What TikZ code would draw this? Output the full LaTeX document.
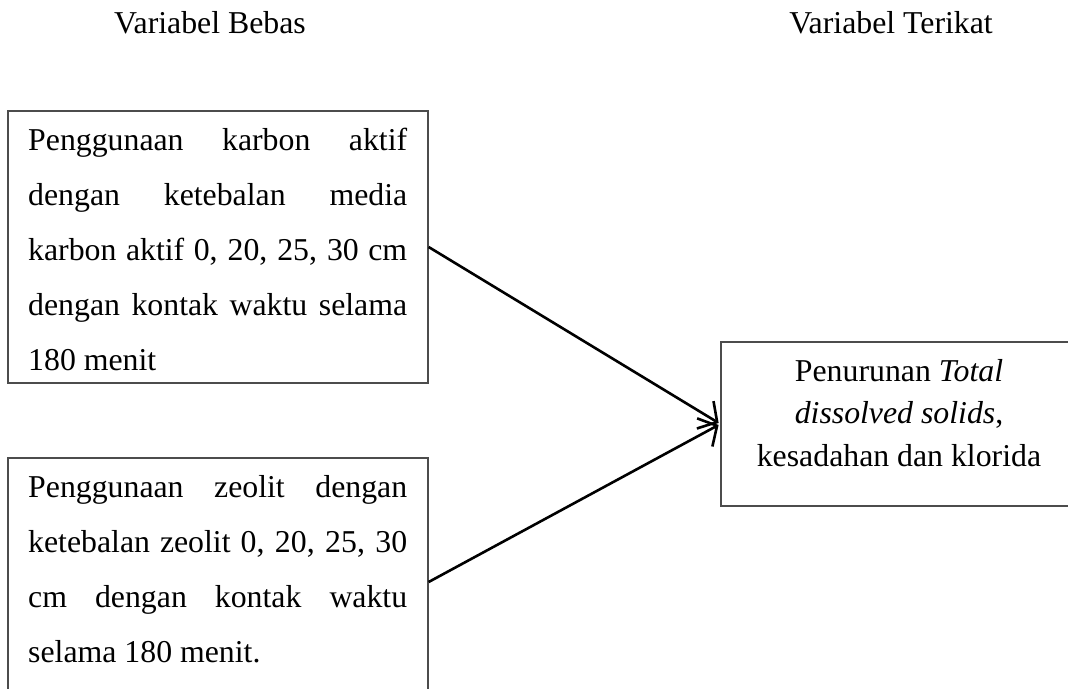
\documentclass[tikz,border=0pt]{standalone}
\usepackage{fontspec}
\setmainfont{Liberation Serif}
\usetikzlibrary{arrows.meta}
\begin{document}
\begin{tikzpicture}[x=1pt,y=-1pt,
  box/.style={draw=black!70, line width=1.3pt, rectangle, inner sep=0pt},
  txt/.style={inner sep=0pt, anchor=base west},
  ttl/.style={inner sep=0pt, anchor=base, font=\fontsize{31.8}{38}\selectfont},
  conn/.style={line width=2.6pt, shorten >=2pt, -{Straight Barb[length=14pt,width=32pt]}}]
\useasboundingbox (0,0) rectangle (1068,688);
\clip (0,0) rectangle (1068,688);
% titles
\node[ttl] (h1) at (210,33) {Variabel Bebas};
\node[ttl] (h2) at (891,33) {Variabel Terikat};
% boxes
\node[box, minimum width=420pt, minimum height=272pt] (b1) at (218,247) {};
\node[box, minimum width=420pt, minimum height=248pt] (b2) at (218,582) {};
\node[box, minimum width=356pt, minimum height=164pt] (b3) at (899,424) {};
% texts
\node[txt] (t1) at (28,150) {\parbox[t]{379pt}{\fontsize{31.8}{55}\selectfont\parindent=0pt
Penggunaan karbon aktif\linebreak dengan ketebalan media\linebreak karbon aktif 0, 20, 25, 30 cm\linebreak dengan kontak waktu selama\linebreak 180 menit}};
\node[txt] (t2) at (28,497) {\parbox[t]{379pt}{\fontsize{31.8}{55}\selectfont\parindent=0pt
Penggunaan zeolit dengan\linebreak ketebalan zeolit 0, 20, 25, 30\linebreak cm dengan kontak waktu\linebreak selama 180 menit.}};
\node[inner sep=0pt, anchor=base] (t3) at (899,381) {\parbox[t]{350pt}{\fontsize{31.8}{42.5}\selectfont\centering
Penurunan \textit{Total}\\ \textit{dissolved solids},\\ kesadahan dan klorida}};
% connectors
\draw[conn] (b1.east) -- (b3.west);
\draw[conn] (b2.east) -- (b3.west);
\end{tikzpicture}
\end{document}
